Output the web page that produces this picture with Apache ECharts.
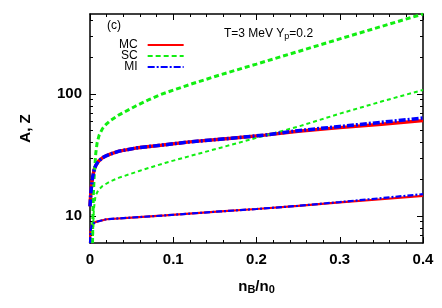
<!DOCTYPE html>
<html><head><meta charset="utf-8">
<script src="https://cdn.jsdelivr.net/npm/echarts@6/dist/echarts.min.js"></script>
<style>html,body{margin:0;padding:0;background:#fff}#c{width:442px;height:308px}</style>
</head><body><div id="c"></div>
<script>
// ---- data (x = nB/n0, y = A or Z) ----
const mcA = [[0,12],[0.001,15.5],[0.002,18],[0.003,20.5],[0.005,24],[0.007,26],[0.01,28],[0.015,30],[0.02,31.3],[0.025,32.3],[0.035,34],[0.055,36],[0.085,38],[0.12,40.5],[0.17,43.4],[0.21,46],[0.25,49.5],[0.3,53],[0.35,56.5],[0.4,60.5]];
const miA = [[0,12],[0.001,15.5],[0.002,18],[0.003,20.5],[0.005,24],[0.007,26],[0.01,28],[0.015,30],[0.02,31.3],[0.025,32.3],[0.035,34],[0.055,36],[0.085,38],[0.12,40.5],[0.17,43.4],[0.21,46.1],[0.25,50],[0.3,54.2],[0.35,58.6],[0.4,63.5]];
const scA = [[0.003,6],[0.0035,10],[0.004,15],[0.005,21],[0.006,26.5],[0.007,33],[0.0086,40],[0.011,46],[0.015,52],[0.02,57],[0.025,61],[0.035,67.5],[0.055,79.7],[0.07,89.3],[0.085,99],[0.1,107.6],[0.12,119.7],[0.157,144],[0.2,176],[0.25,223],[0.3,283],[0.35,358],[0.4,453]];
const mcZ = [[0,6],[0.0005,7.2],[0.001,7.8],[0.002,8.3],[0.006,8.9],[0.02,9.4],[0.05,9.7],[0.09,10.1],[0.157,10.9],[0.2,11.4],[0.25,12.1],[0.3,12.9],[0.35,13.7],[0.4,14.6]];
const miZ = [[0,6],[0.0005,7.2],[0.001,7.8],[0.002,8.3],[0.006,8.9],[0.02,9.4],[0.05,9.7],[0.09,10.1],[0.157,10.9],[0.2,11.4],[0.25,12.1],[0.3,13.0],[0.35,14.0],[0.4,15.1]];
const scZ = [[0.0034,6],[0.004,9],[0.0046,11.3],[0.0066,14.6],[0.01,16.3],[0.015,17.6],[0.025,19.3],[0.035,20.6],[0.06,23.5],[0.09,27.2],[0.12,31],[0.157,36.3],[0.2,43.7],[0.25,54],[0.3,69],[0.35,86.7],[0.4,108]];
const yMajor = [10, 100];
const yMinor = [7,8,9,20,30,40,50,60,70,80,90,200,300,400];
const seriesNames = ['MC','SC','MI'];
// ---------------------------------------
const FONT = '"Liberation Sans", Arial, sans-serif';
const chart = echarts.init(document.getElementById('c'), null, {renderer:'canvas'});
const yMin = 6, yMax = 453;
function yAx(pos, major){
  return {
    type:'log', logBase:10, min:yMin, max:yMax, position:pos,
    axisLine:{show: major, lineStyle:{color:'#000', width:1.5}},
    axisTick:{show:true, inside:true, length: major?6:3, customValues: major?yMajor:yMinor, lineStyle:{color:'#000', width:1}},
    axisLabel:{show: major && pos==='left', customValues: yMajor, color:'#000', fontFamily:FONT, fontWeight:'bold', fontSize:15, margin:8},
    splitLine:{show:false}, minorTick:{show:false},
    name: (major && pos==='left') ? 'A, Z' : '', nameLocation:'middle', nameGap:57,
    nameTextStyle:{color:'#000', fontFamily:FONT, fontWeight:'bold', fontSize:15}
  };
}
function xAx(pos){
  return {
    type:'value', min:0, max:0.4, interval:0.1, position:pos,
    axisLine:{show:true, lineStyle:{color:'#000', width:1.5}},
    axisTick:{show:true, inside:true, length:6, lineStyle:{color:'#000', width:1}},
    minorTick:{show:true, splitNumber:5, length:3, lineStyle:{color:'#000', width:1}},
    axisLabel:{show: pos==='bottom', color:'#000', fontFamily:FONT, fontWeight:'bold', fontSize:15, margin:9},
    splitLine:{show:false}, minorSplitLine:{show:false},
    name: pos==='bottom' ? '{a|n}{s|B}{a|/n}{s|0}' : '', nameLocation:'middle', nameGap:36,
    nameTextStyle:{color:'#000', fontFamily:FONT, fontWeight:'bold', fontSize:15,
      rich:{a:{fontFamily:FONT, fontWeight:'bold', fontSize:15, lineHeight:16, verticalAlign:'top'},
            s:{fontFamily:FONT, fontWeight:'bold', fontSize:11, lineHeight:16, verticalAlign:'bottom', padding:[5,0,0,0]}}}
  };
}
function ser(name, data, color, width, type){
  return {name, type:'line', data, xAxisIndex:0, yAxisIndex:0, symbol:'none', showSymbol:false,
    smooth:false, clip:true, animation:false,
    lineStyle:{color, width, type}, itemStyle:{color}};
}
const RED='#ff0000', GREEN='#11ee11', BLUE='#0000ff';
chart.setOption({
  animation:false,
  grid:{left:90, right:19, top:14, bottom:65, containLabel:false},
  xAxis:[xAx('bottom'), xAx('top')],
  yAxis:[yAx('left',true), yAx('left',false), yAx('right',true), yAx('right',false)],
  legend:{data:seriesNames, orient:'vertical', left:114, top:34, align:'right',
    itemWidth:36, itemHeight:8, itemGap:-1,
    itemStyle:{opacity:0},
    textStyle:{color:'#000', fontFamily:FONT, fontSize:12, padding:[0,5,0,0]}},
  graphic:[
    {type:'text', left:107, top:20, style:{text:'(c)', font:'12px '+FONT, fill:'#000'}},
    {type:'text', left:224, top:28, style:{text:'{a|T=3 MeV Y}{s|p}{a|=0.2}', font:'12px '+FONT, fill:'#000',
      rich:{a:{fontSize:12, fontFamily:FONT, lineHeight:13, verticalAlign:'top'}, s:{fontSize:9, fontFamily:FONT, lineHeight:13, verticalAlign:'bottom', padding:[4,0,0,0]}}}}
  ],
  series:[
    ser('MC', mcA, RED, 3.5, 'solid'),
    ser('MC', mcZ, RED, 2.2, 'solid'),
    ser('SC', scA, GREEN, 3, [5,3]),
    ser('SC', scZ, GREEN, 2, [4,3]),
    ser('MI', miA, BLUE, 3.5, [7,2,2,2]),
    ser('MI', miZ, BLUE, 2.2, [6,2,2,2])
  ]
});
</script></body></html>
